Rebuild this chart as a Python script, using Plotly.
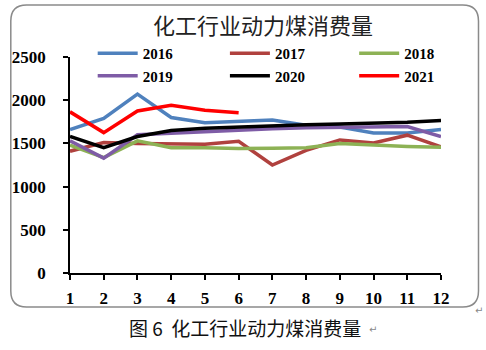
import plotly.graph_objects as go

months = list(range(1, 13))
series_names = ["2016", "2017", "2018", "2019", "2020", "2021"]
y2016 = [1660, 1790, 2070, 1800, 1740, 1750, 1770, 1710, 1690, 1620, 1620, 1660]
y2017 = [1410, 1510, 1500, 1500, 1490, 1525, 1250, 1420, 1540, 1505, 1595, 1460]
y2018 = [1480, 1335, 1530, 1450, 1450, 1440, 1445, 1450, 1500, 1480, 1465, 1455]
y2019 = [1530, 1330, 1600, 1620, 1640, 1660, 1670, 1680, 1685, 1690, 1695, 1580]
y2020 = [1580, 1450, 1580, 1650, 1675, 1690, 1705, 1715, 1725, 1735, 1745, 1765]
y2021 = [1865, 1625, 1875, 1940, 1885, 1855]
colors = ["#4F81BD", "#B0413E", "#8DB255", "#7E5CA6", "#000000", "#FF0000"]
legend_ids = ["legend", "legend2", "legend3", "legend", "legend2", "legend3"]
title_text = "化工行业动力煤消费量"
caption_text = "图 6  化工行业动力煤消费量"
yticks = [0, 500, 1000, 1500, 2000, 2500]

W, H = 486, 350
L, R, T, B = 65, 441, 57, 273

fig = go.Figure()
for name, ys, c, lg in zip(series_names, [y2016, y2017, y2018, y2019, y2020, y2021], colors, legend_ids):
    fig.add_trace(go.Scatter(x=months[:len(ys)], y=ys, name=name, mode="lines",
                             line=dict(color=c, width=3.5), legend=lg))

tickfont = dict(family="Liberation Serif", size=17, color="#000", weight="bold")

def px(x):
    return (x - L) / (R - L)

def py(y):
    return (B - y) / (B - T)

# rounded border path
x0, x1, y0, y1, r = 5, 479, 5, 307, 16
path = (f"M {px(x0+r)},{py(y0)} L {px(x1-r)},{py(y0)} Q {px(x1)},{py(y0)} {px(x1)},{py(y0+r)} "
        f"L {px(x1)},{py(y1-r)} Q {px(x1)},{py(y1)} {px(x1-r)},{py(y1)} "
        f"L {px(x0+r)},{py(y1)} Q {px(x0)},{py(y1)} {px(x0)},{py(y1-r)} "
        f"L {px(x0)},{py(y0+r)} Q {px(x0)},{py(y0)} {px(x0+r)},{py(y0)} Z")

legfont = dict(family="Liberation Serif", size=15, color="#000", weight="bold")

def leg(xpix):
    return dict(orientation="v", x=px(xpix), y=py(37), xanchor="left", yanchor="top",
                tracegroupgap=0, font=legfont, bgcolor="rgba(0,0,0,0)", itemwidth=40)

fig.update_layout(
    width=W, height=H,
    margin=dict(l=L, r=W - R, t=T, b=H - B),
    paper_bgcolor="white", plot_bgcolor="white",
    showlegend=True,
    legend=leg(88), legend2=leg(222), legend3=leg(353),
    shapes=[dict(type="path", path=path, xref="paper", yref="paper",
                 line=dict(color="#8a8a8a", width=1.5), layer="below")],
    annotations=[
        dict(text=title_text, x=px(261), y=py(24), xref="paper", yref="paper",
             showarrow=False, xanchor="center", yanchor="middle",
             font=dict(family="Noto Sans CJK SC", size=22, color="#222")),
        dict(text=caption_text, x=px(242), y=py(327), xref="paper", yref="paper",
             showarrow=False, xanchor="center", yanchor="middle",
             font=dict(family="Noto Sans CJK SC", size=19, color="#111")),
        dict(text="↵", x=px(366), y=py(329), xref="paper", yref="paper",
             showarrow=False, xanchor="left", yanchor="middle",
             font=dict(family="DejaVu Sans", size=10, color="#888")),
        dict(text="↵", x=px(486), y=py(310), xref="paper", yref="paper",
             showarrow=False, xanchor="right", yanchor="middle",
             font=dict(family="DejaVu Sans", size=10, color="#888")),
    ],
)

fig.update_xaxes(range=[1, 12], tickvals=months, ticktext=[str(m) for m in months],
                 showline=True, linecolor="#000", linewidth=1.5,
                 ticks="outside", ticklen=5, tickwidth=1.5, tickcolor="#000",
                 showgrid=False, zeroline=False, tickfont=tickfont, ticklabelstandoff=4)
fig.update_yaxes(range=[0, 2500], tickvals=yticks,
                 showline=True, linecolor="#000", linewidth=1.5,
                 ticks="outside", ticklen=5, tickwidth=1.5, tickcolor="#000",
                 showgrid=False, zeroline=False, tickfont=tickfont, ticklabelstandoff=14)

fig.write_html("out.html")
